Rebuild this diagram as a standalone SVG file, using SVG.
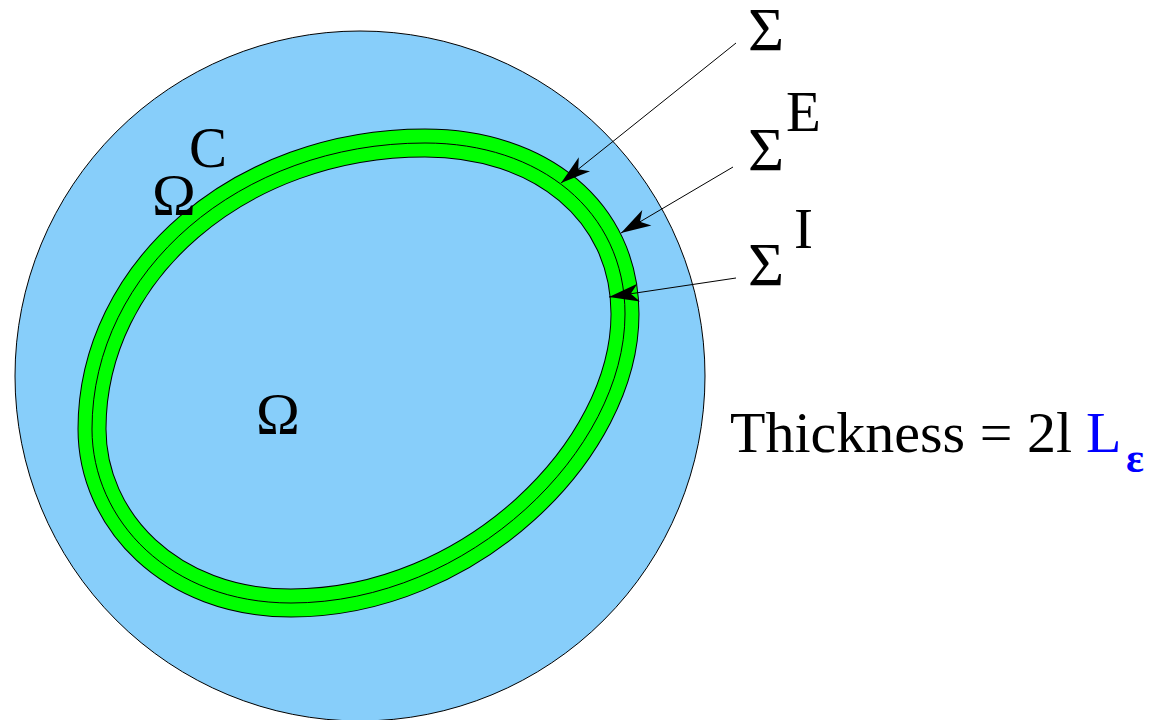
<svg xmlns="http://www.w3.org/2000/svg" width="1151" height="720" viewBox="0 0 1151 720">
<style>
text{font-family:'Liberation Serif','Times New Roman',serif;fill:#000}
.b{fill:#0000ff}
.ln{stroke:#000;stroke-width:1;fill:none}
</style>
<defs>
<marker id="ah" markerUnits="userSpaceOnUse" markerWidth="32" markerHeight="22" viewBox="-31 -11 32 22" refX="0" refY="0" orient="auto">
<path d="M0,0 L-30,-9 L-22,0 L-30,9 Z" fill="#000"/>
</marker>
<path id="ring" d="M 92 429 C 92 271 240 143 425 143 C 540 143 625 211 625 314 C 625 450 470 603 291 603 C 170 603 92 520 92 429 Z"/>
</defs>
<rect width="1151" height="720" fill="#fff"/>
<g id="omegaC-region">
<circle cx="360" cy="376" r="345" fill="#87cefa" stroke="#000" stroke-width="1"/>
</g>
<g id="sigma-band">
<use href="#ring" fill="none" stroke="#000" stroke-width="29"/>
<use href="#ring" fill="none" stroke="#00ff00" stroke-width="27"/>
<use href="#ring" fill="none" stroke="#000" stroke-width="1"/>
</g>
<g id="connectors">
<line class="ln" x1="736" y1="43" x2="561" y2="183" marker-end="url(#ah)"/>
<line class="ln" x1="733" y1="167" x2="621" y2="233" marker-end="url(#ah)"/>
<line class="ln" x1="736" y1="278" x2="609" y2="297" marker-end="url(#ah)"/>
</g>
<g id="label-sigma"><text x="748" y="50" font-size="62">Σ</text></g>
<g id="label-sigmaE"><text x="748" y="170" font-size="62">Σ</text><text x="786" y="131" font-size="57">E</text></g>
<g id="label-sigmaI"><text x="748" y="285" font-size="62">Σ</text><text x="794" y="248" font-size="57">I</text></g>
<g id="label-omegaC"><text x="152" y="215" font-size="59">Ω</text><text x="189" y="167" font-size="57">C</text></g>
<g id="label-omega"><text x="256" y="434" font-size="59">Ω</text></g>
<g id="label-thickness">
<text x="730" y="452" font-size="58">Thickness = 2l</text>
<text class="b" x="1086" y="452" font-size="58">L</text>
<text class="b" x="1126" y="472" font-size="42" font-weight="bold">ε</text>
</g>
</svg>
